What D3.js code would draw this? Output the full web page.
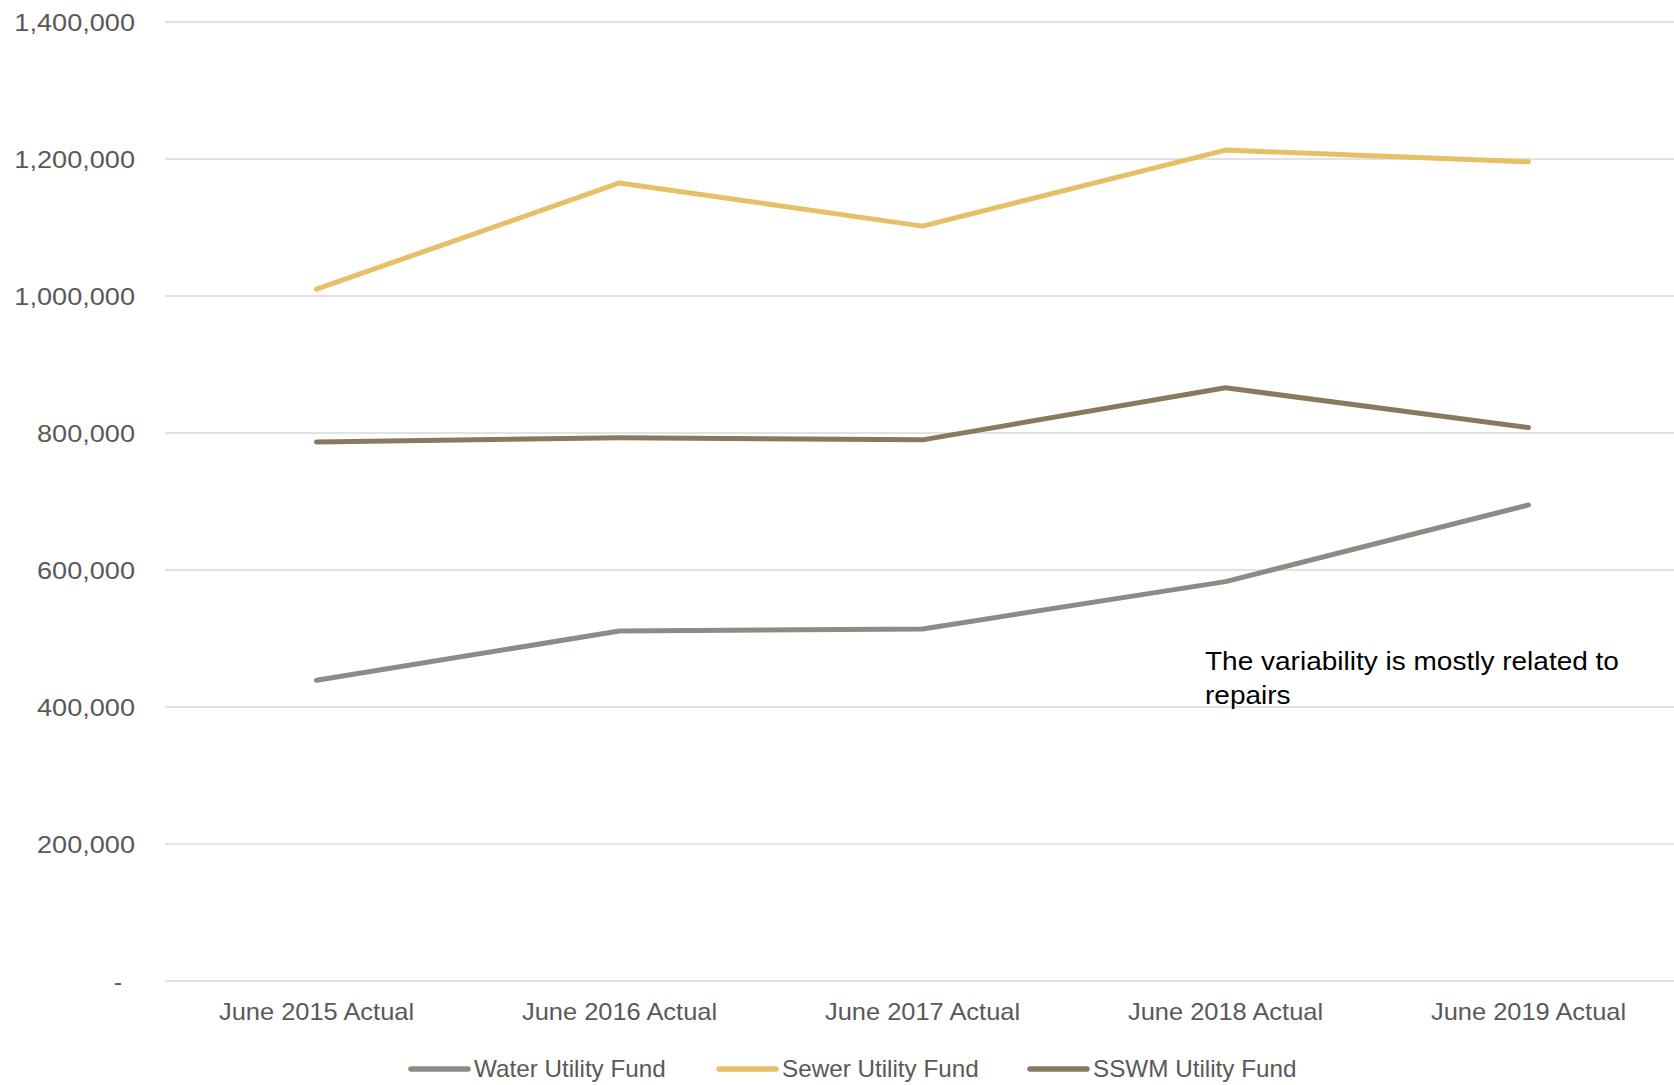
<!DOCTYPE html>
<html>
<head>
<meta charset="utf-8">
<script src="https://cdn.jsdelivr.net/npm/d3@7/dist/d3.min.js"></script>
<style>
  html, body { margin: 0; padding: 0; background: #fff; }
  svg { display: block; }
  text { font-family: "Liberation Sans", Arial, sans-serif; }
</style>
</head>
<body>
<svg id="chart" width="1674" height="1085"></svg>
<script>
// Fund totals by fiscal year
const categories = ["June 2015 Actual", "June 2016 Actual", "June 2017 Actual", "June 2018 Actual", "June 2019 Actual"];
const seriesNames = ["Water Utility Fund", "Sewer Utility Fund", "SSWM Utility Fund"];
const waterValues = [439000, 511000, 514000, 583000, 695000];
const sewerValues = [1010000, 1165000, 1102000, 1213000, 1196000];
const sswmValues = [787000, 793000, 790000, 866000, 808000];
const yTicks = [0, 200000, 400000, 600000, 800000, 1000000, 1200000, 1400000];
const seriesColors = ["#8c8c85", "#e6bf66", "#877a5f"];
const noteLines = ["The variability is mostly related to", "repairs"];

const svg = d3.select("#chart");
const plot = { left: 165, right: 1680, top: 22, bottom: 981 };

const x = d3.scaleBand().domain(categories).range([plot.left, plot.right]);
const y = d3.scaleLinear().domain([0, 1400000]).range([plot.bottom, plot.top]);

const fmt = d3.format(",");

// stretch a text element to a given width (a wider face is approximated)
function fitWidth(sel, ratio) {
  sel.each(function () {
    const w = this.getComputedTextLength();
    d3.select(this).attr("textLength", w * ratio).attr("lengthAdjust", "spacingAndGlyphs");
  });
}

// horizontal gridlines
svg.append("g")
  .selectAll("line")
  .data(yTicks)
  .join("line")
  .attr("x1", plot.left)
  .attr("x2", 1674)
  .attr("y1", d => y(d))
  .attr("y2", d => y(d))
  .attr("stroke", "#d9d9d9")
  .attr("stroke-width", 1.5);

// y axis labels
const yAxis = d3.axisLeft(y).tickValues(yTicks).tickSize(0).tickPadding(0)
  .tickFormat(d => d === 0 ? "-" : fmt(d));
const yG = svg.append("g").attr("transform", `translate(135,0)`).call(yAxis);
yG.select(".domain").remove();
yG.selectAll("text")
  .attr("fill", "#595959")
  .style("font-size", "24px")
  .attr("dy", "0.35em")
  .attr("dx", d => d === 0 ? -13 : 0);
fitWidth(yG.selectAll("text").filter(d => d !== 0), 1.13);

// x axis labels
const xAxis = d3.axisBottom(x).tickSize(0).tickPadding(0);
const xG = svg.append("g").attr("transform", `translate(0,${plot.bottom})`).call(xAxis);
xG.select(".domain").remove();
xG.selectAll("text")
  .attr("fill", "#595959")
  .style("font-size", "24px")
  .attr("y", 31)
  .attr("dy", "0.35em");
fitWidth(xG.selectAll("text"), 1.06);

// series lines
const allSeries = [waterValues, sewerValues, sswmValues];
const line = d3.line()
  .x((d, i) => x(categories[i]) + x.bandwidth() / 2)
  .y(d => y(d));

svg.append("g")
  .selectAll("path")
  .data(allSeries)
  .join("path")
  .attr("d", d => line(d))
  .attr("fill", "none")
  .attr("stroke", (d, i) => seriesColors[i])
  .attr("stroke-width", 5)
  .attr("stroke-linecap", "round")
  .attr("stroke-linejoin", "round");

// annotation
const note = svg.append("text")
  .attr("x", 1205)
  .attr("y", 661)
  .attr("fill", "#000")
  .style("font-size", "25px");
note.selectAll("tspan")
  .data(noteLines)
  .join("tspan")
  .attr("x", 1205)
  .attr("dy", (d, i) => i === 0 ? "0.35em" : "34px")
  .text(d => d);
note.selectAll("tspan").each(function () {
  const w = this.getComputedTextLength();
  d3.select(this).attr("textLength", w * 1.12).attr("lengthAdjust", "spacingAndGlyphs");
});

// legend
const legendX = [409, 717, 1028];
const legendY = 1069;
const lg = svg.append("g")
  .selectAll("g")
  .data(seriesNames)
  .join("g")
  .attr("transform", (d, i) => `translate(${legendX[i]},${legendY})`);
lg.append("line")
  .attr("x1", 2).attr("x2", 59)
  .attr("stroke", (d, i) => seriesColors[i])
  .attr("stroke-width", 5.5)
  .attr("stroke-linecap", "round");
lg.append("text")
  .attr("x", 65)
  .attr("dy", "0.35em")
  .attr("fill", "#595959")
  .style("font-size", "24px")
  .text(d => d);
fitWidth(lg.selectAll("text"), 1.01);
</script>
</body>
</html>
